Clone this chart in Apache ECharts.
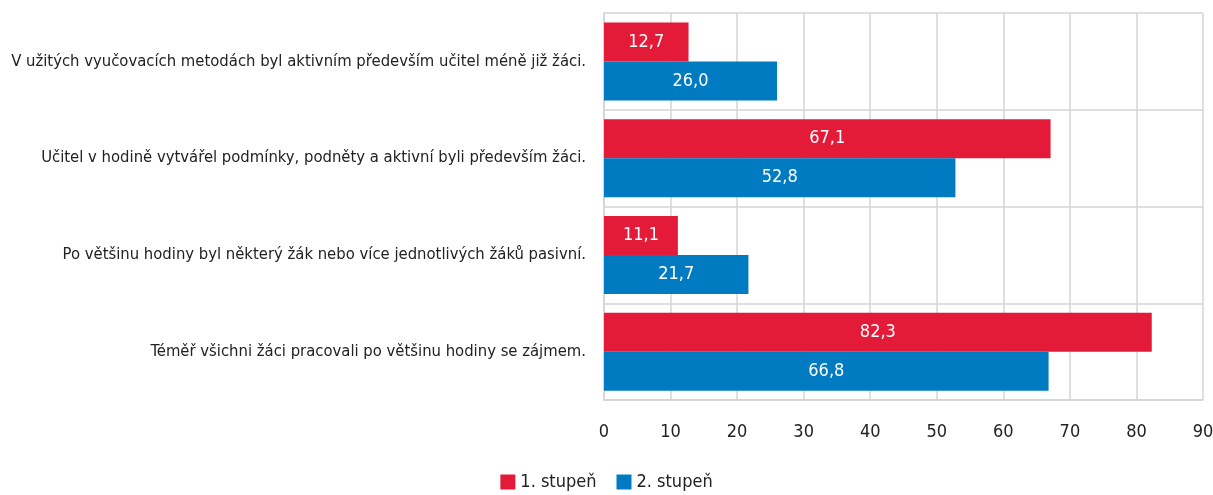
<!DOCTYPE html>
<html>
<head>
<meta charset="utf-8">
<script src="https://cdn.jsdelivr.net/npm/echarts@6/dist/echarts.min.js"></script>
<style>
  html, body { margin: 0; padding: 0; background: #fff; }
  #chart { width: 1213px; height: 495px; }
</style>
</head>
<body>
<div id="chart"></div>
<script>
const categories = [
  'V užitých vyučovacích metodách byl aktivním především učitel méně již žáci.',
  'Učitel v hodině vytvářel podmínky, podněty a aktivní byli především žáci.',
  'Po většinu hodiny byl některý žák nebo více jednotlivých žáků pasivní.',
  'Téměř všichni žáci pracovali po většinu hodiny se zájmem.'
]
const stupen1 = [12.7, 67.1, 11.1, 82.3]
const stupen2 = [26.0, 52.8, 21.7, 66.8]
const seriesNames = ['1. stupeň', '2. stupeň']

const font = '"DejaVu Sans Condensed", "Liberation Sans", sans-serif'
const gridColor = '#d4d4d4'

const chart = echarts.init(document.getElementById('chart'))

const fmt = (p) => p.value.toFixed(1).replace('.', ',')

chart.setOption({
  animation: false,
  textStyle: { fontFamily: font },
  legend: {
    bottom: -1,
    left: 'center',
    itemWidth: 15,
    itemHeight: 15,
    itemGap: 20,
    icon: 'rect',
    textStyle: { fontFamily: font, fontSize: 18, color: '#222' },
    data: seriesNames
  },
  grid: {
    left: 604,
    right: 10,
    top: 13,
    bottom: 95,
    outerBoundsMode: 'none'
  },
  xAxis: {
    type: 'value',
    min: 0,
    max: 90,
    interval: 10,
    axisLine: { show: true, lineStyle: { color: gridColor, width: 1.5 } },
    axisTick: { show: false },
    axisLabel: { fontFamily: font, fontSize: 18, color: '#222', margin: 23 },
    splitLine: { lineStyle: { color: gridColor, width: 1.5 } }
  },
  yAxis: {
    type: 'category',
    inverse: true,
    data: categories,
    axisLine: { show: true, lineStyle: { color: gridColor, width: 1.5 } },
    axisTick: { show: false },
    axisLabel: { fontFamily: font, fontSize: 16.5, color: '#222', margin: 18 },
    splitLine: { show: true, lineStyle: { color: gridColor, width: 1.5 } }
  },
  series: [
    {
      name: seriesNames[0],
      type: 'bar',
      data: stupen1,
      barWidth: 39,
      barGap: '0%',
      itemStyle: { color: '#e31a38' },
      label: { show: true, position: 'inside', color: '#fff', fontFamily: font, fontSize: 18, formatter: fmt }
    },
    {
      name: seriesNames[1],
      type: 'bar',
      data: stupen2,
      barWidth: 39,
      barGap: '0%',
      itemStyle: { color: '#007bc2' },
      label: { show: true, position: 'inside', color: '#fff', fontFamily: font, fontSize: 18, formatter: fmt }
    }
  ]
})
</script>
</body>
</html>
